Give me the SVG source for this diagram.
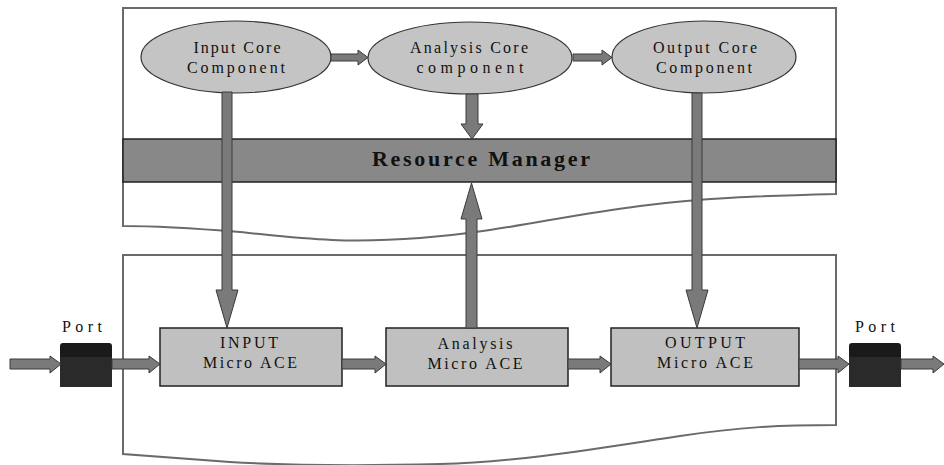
<svg xmlns="http://www.w3.org/2000/svg" width="944" height="465" viewBox="0 0 944 465">
<style>
.cont{fill:#fff;stroke:#6a6a6a;stroke-width:2}
.ell{fill:#c4c4c4;stroke:#333;stroke-width:1.2}
.box{fill:#c0c0c0;stroke:#222;stroke-width:1.5}
.arr{fill:#7a7a7a;stroke:#3a3a3a;stroke-width:1}
.t{font-family:"Liberation Serif","DejaVu Serif","Times New Roman",serif;font-size:16px;fill:#111;text-anchor:middle}
.rm{font-family:"Liberation Serif","DejaVu Serif","Times New Roman",serif;font-size:22px;font-weight:bold;fill:#111;text-anchor:middle}
.port-top{fill:#1a1a1a}
.port-bot{fill:#2a2a2a}
</style>
<g id="containers">
<path class="cont" d="M123,8 L836,8 L836,194 C760,196 700,198 640,206 C560,216 500,232 420,238 C340,244 300,238 240,232 C190,228 150,226 123,226 Z"/>
<path class="cont" d="M123,255 L836,255 L836,425 C780,425 740,427 680,436 C600,448 520,462 440,464 C360,466 300,466 230,462 C180,458 150,456 123,454 Z"/>
</g>
<g id="resource-manager">
<rect x="123" y="139" width="713" height="43" fill="#888" stroke="#222" stroke-width="1.5"/>
<text class="rm" x="481" y="166" textLength="218" lengthAdjust="spacing">Resource Manager</text>
</g>
<g id="input-core">
<ellipse class="ell" cx="236" cy="57" rx="95" ry="36"/>
<text class="t" x="237" y="53" textLength="87" lengthAdjust="spacing">Input Core</text>
<text class="t" x="236" y="73" textLength="98" lengthAdjust="spacing">Component</text>
</g>
<g id="analysis-core">
<ellipse class="ell" cx="470" cy="58" rx="102" ry="36"/>
<text class="t" x="469" y="53" textLength="118" lengthAdjust="spacing">Analysis Core</text>
<text class="t" x="470" y="73" textLength="107" lengthAdjust="spacing">component</text>
</g>
<g id="output-core">
<ellipse class="ell" cx="704" cy="57" rx="92" ry="36"/>
<text class="t" x="705" y="53" textLength="104" lengthAdjust="spacing">Output Core</text>
<text class="t" x="704" y="73" textLength="96" lengthAdjust="spacing">Component</text>
</g>
<g id="input-ace">
<rect class="box" x="160" y="328" width="182" height="58"/>
<text class="t" x="249" y="348" textLength="58" lengthAdjust="spacing">INPUT</text>
<text class="t" x="250" y="368" textLength="94" lengthAdjust="spacing">Micro ACE</text>
</g>
<g id="analysis-ace">
<rect class="box" x="386" y="328" width="182" height="58"/>
<text class="t" x="475" y="349" textLength="75" lengthAdjust="spacing">Analysis</text>
<text class="t" x="475" y="369" textLength="95" lengthAdjust="spacing">Micro ACE</text>
</g>
<g id="output-ace">
<rect class="box" x="611" y="328" width="188" height="58"/>
<text class="t" x="705" y="348" textLength="80" lengthAdjust="spacing">OUTPUT</text>
<text class="t" x="705" y="368" textLength="96" lengthAdjust="spacing">Micro ACE</text>
</g>
<g id="port-left">
<path class="port-bot" d="M60,355 L112,355 L112,387 L60,387 Z"/>
<path class="port-top" d="M60,357 L60,346 Q60,343 63,343 L109,343 Q112,343 112,346 L112,357 Z"/>
<text class="t" x="82" y="332" textLength="40" lengthAdjust="spacing">Port</text>
</g>
<g id="port-right">
<path class="port-bot" d="M849,355 L901,355 L901,387 L849,387 Z"/>
<path class="port-top" d="M849,357 L849,346 Q849,343 852,343 L898,343 Q901,343 901,346 L901,357 Z"/>
<text class="t" x="875" y="332" textLength="40" lengthAdjust="spacing">Port</text>
</g>
<g id="connectors">
<polygon class="arr" points="331,54 358,54 358,50 368,57.5 358,65 358,61 331,61"/>
<polygon class="arr" points="573,54 602,54 602,50 612,57.5 602,65 602,61 573,61"/>
<polygon class="arr" points="222,92 232,92 232,290 238,290 227,328 216,290 222,290"/>
<polygon class="arr" points="692,93 702,93 702,290 708,290 697,328 686,290 692,290"/>
<polygon class="arr" points="466,94 478,94 478,124 483,124 472,139 461,124 466,124"/>
<polygon class="arr" points="466,328 477,328 477,219 482,219 471.5,183 461,219 466,219"/>
<polygon class="arr" points="10,359 50,359 50,356 61,364 50,373 50,369 10,369"/>
<polygon class="arr" points="112,359 149,359 149,356 160,364 149,373 149,369 112,369"/>
<polygon class="arr" points="342,359 375,359 375,356 386,364 375,373 375,369 342,369"/>
<polygon class="arr" points="568,359 600,359 600,356 611,364 600,373 600,369 568,369"/>
<polygon class="arr" points="799,359 838,359 838,356 849,364 838,373 838,369 799,369"/>
<polygon class="arr" points="901,359 933,359 933,356 944,364 933,373 933,369 901,369"/>
</g>
</svg>
